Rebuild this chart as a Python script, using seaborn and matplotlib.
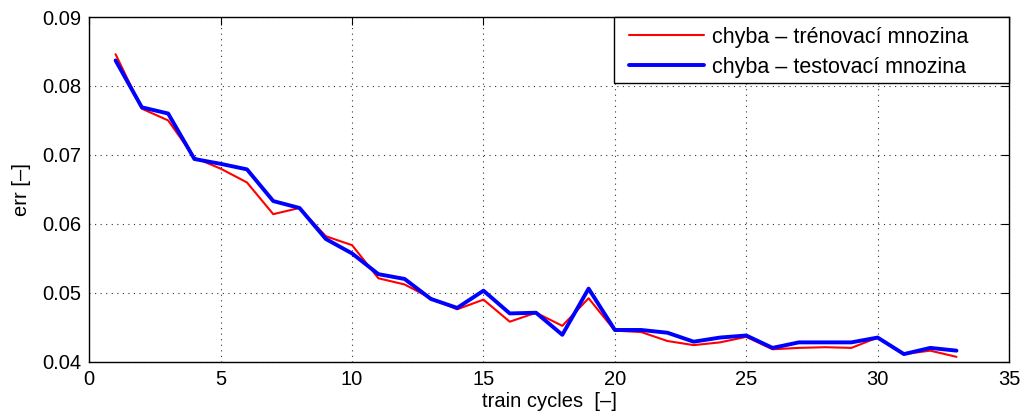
import numpy as np
import pandas as pd
import matplotlib
matplotlib.use("Agg")
import matplotlib.pyplot as plt
import seaborn as sns
from matplotlib.lines import Line2D
from matplotlib.patches import Rectangle

cycles = list(range(1, 34))
train_err = [0.0846, 0.0767, 0.0750, 0.0696, 0.0680, 0.0660, 0.0614, 0.0623, 0.0582, 0.0569,
             0.0521, 0.0512, 0.0492, 0.0476, 0.0490, 0.0458, 0.0471, 0.0452, 0.0492, 0.0445,
             0.0443, 0.0430, 0.0424, 0.0428, 0.0436, 0.0418, 0.0420, 0.0421, 0.0420, 0.0435,
             0.0411, 0.0416, 0.0407]
test_err = [0.0837, 0.0769, 0.0760, 0.0694, 0.0687, 0.0679, 0.0633, 0.0623, 0.0578, 0.0557,
            0.0527, 0.0520, 0.0491, 0.0478, 0.0503, 0.0470, 0.0471, 0.0439, 0.0506, 0.0446,
            0.0446, 0.0442, 0.0429, 0.0435, 0.0438, 0.0420, 0.0428, 0.0428, 0.0428, 0.0435,
            0.0411, 0.0420, 0.0416]
label_train = "chyba – trénovací mnozina"
label_test = "chyba – testovací mnozina"
x_ticks = [0, 5, 10, 15, 20, 25, 30, 35]
y_ticks = [0.04, 0.05, 0.06, 0.07, 0.08, 0.09]

sns.set_theme(style="white")
plt.rcParams['font.family'] = ['Liberation Sans', 'DejaVu Sans']
plt.rcParams['text.color'] = 'black'
plt.rcParams['axes.labelcolor'] = 'black'

df = pd.DataFrame({"cycle": cycles * 2,
                   "err": train_err + test_err,
                   "series": [label_train] * len(cycles) + [label_test] * len(cycles)})

fig = plt.figure(figsize=(10.24, 4.19), dpi=100)
ax = fig.add_axes([0.0872, 0.1368, 0.8982, 0.8226])

sns.lineplot(data=df, x="cycle", y="err", hue="series", size="series",
             palette={label_train: "#ff0000", label_test: "#0000ff"},
             sizes={label_train: 1.5, label_test: 2.8}, ax=ax, legend=False)

ax.set_xlim(0, 35)
ax.set_ylim(0.04, 0.09)
ax.set_xticks(x_ticks)
ax.set_yticks(y_ticks)
ax.set_xticklabels([str(t) for t in x_ticks])
ax.set_yticklabels([f"{t:.2f}" for t in y_ticks])
ax.grid(True, color="black", linestyle=(0, (1, 4)), linewidth=0.8, alpha=0.8)
ax.tick_params(direction="in", length=6, width=0.8, top=True, right=True,
               labelsize=14.5, colors="black", labelcolor="black", pad=6)
for sp in ax.spines.values():
    sp.set_color("black")
    sp.set_linewidth(1.0)

ax.set_xlabel("train cycles  [–]", fontsize=14.5, labelpad=2, color="black")
ax.set_ylabel("err [–]", fontsize=14.5, labelpad=8, color="black")

# legend frame (MATLAB-style, wide right padding)
frame = Rectangle((0.5705, 0.8085), 0.4295, 0.1915, transform=ax.transAxes,
                  facecolor="white", edgecolor="black", linewidth=1.0, zorder=4,
                  clip_on=False)
ax.add_patch(frame)

handles = [Line2D([], [], color="#ff0000", lw=1.5), Line2D([], [], color="#0000ff", lw=2.8)]
leg = ax.legend(handles, [label_train, label_test], loc="upper left",
                bbox_to_anchor=(0.5763, 1.0), fontsize=15.5,
                frameon=False, borderaxespad=0, handlelength=3.5,
                borderpad=0.45, labelspacing=0.42, handletextpad=0.36)
leg.set_zorder(5)
for t in leg.get_texts():
    t.set_color("black")

fig.savefig("out.png", dpi=100)
